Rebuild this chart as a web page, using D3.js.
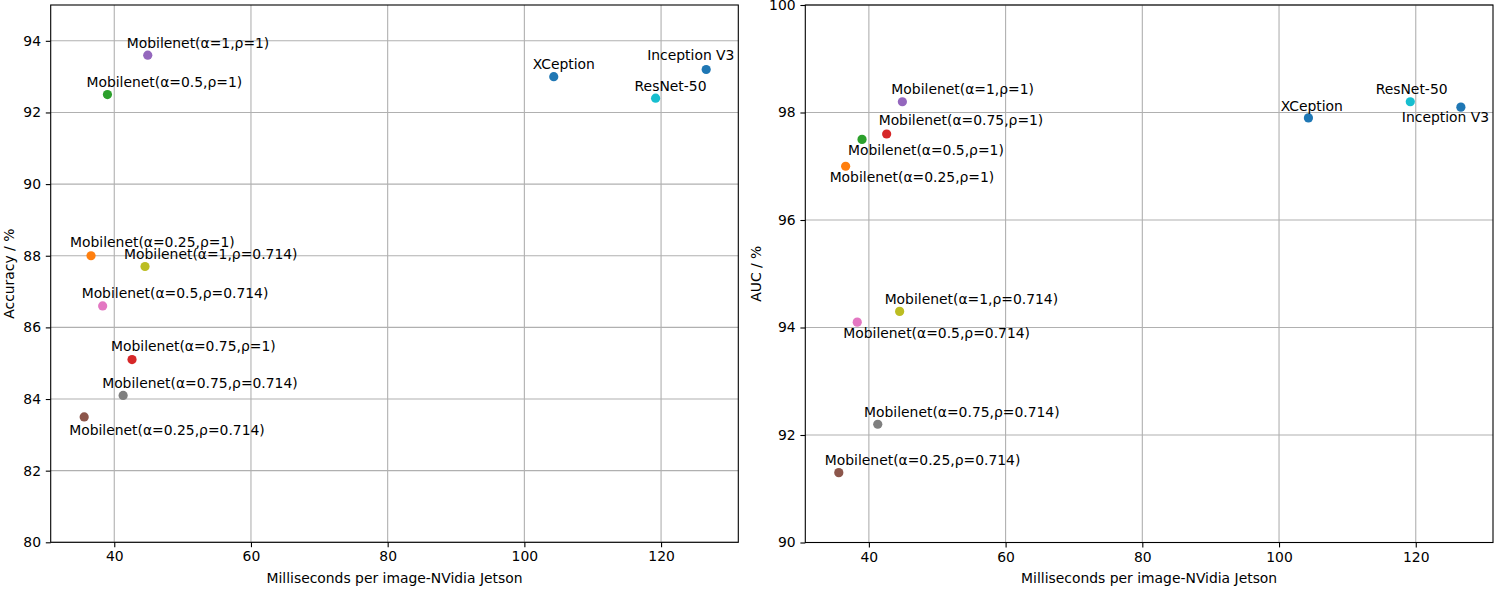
<!DOCTYPE html>
<html>
<head>
<meta charset="utf-8">
<script src="https://cdn.jsdelivr.net/npm/d3@7"></script>
<style>
  html, body { margin: 0; padding: 0; background: #fff; }
  svg { display: block; }
  text { font-family: "DejaVu Sans", sans-serif; fill: #000; }
</style>
</head>
<body>
<svg id="chart" width="1498" height="596"></svg>
<script>
// ---------------- data ----------------
const models = [
  "XCeption",
  "Mobilenet(α=0.25,ρ=1)",
  "Mobilenet(α=0.5,ρ=1)",
  "Mobilenet(α=0.75,ρ=1)",
  "Mobilenet(α=1,ρ=1)",
  "Mobilenet(α=0.25,ρ=0.714)",
  "Mobilenet(α=0.5,ρ=0.714)",
  "Mobilenet(α=0.75,ρ=0.714)",
  "Mobilenet(α=1,ρ=0.714)",
  "ResNet-50",
  "Inception V3"
];
const latencyMs = [104.3, 36.6, 39.0, 42.6, 44.9, 35.6, 38.3, 41.3, 44.5, 119.2, 126.6];
const accuracy  = [93.0, 88.0, 92.5, 85.1, 93.6, 83.5, 86.6, 84.1, 87.7, 92.4, 93.2];
const auc       = [97.9, 97.0, 97.5, 97.6, 98.2, 91.3, 94.1, 92.2, 94.3, 98.2, 98.1];

const xTicks = [40, 60, 80, 100, 120];
const accTicks = [80, 82, 84, 86, 88, 90, 92, 94];
const aucTicks = [90, 92, 94, 96, 98, 100];

const xLabel = "Milliseconds per image-NVidia Jetson";
const accLabel = "Accuracy / %";
const aucLabel = "AUC / %";

// label placement (pixel offsets from point to text start / baseline)
const accLabelDx = [-21, -21, -21, -21, -21, -15, -21, -21, -21, -21, -59];
const accLabelDy = [-8, -8.3, -7.3, -8.7, -7, 17.7, -8, -7, -7, -7.6, -9.3];
const aucLabelDx = [-27.7, -16, -14, -8, -11, -14, -14, -13.7, -15, -34.6, -59];
const aucLabelDy = [-7.3, 15.4, 15.7, -8.6, -7.3, -7.3, 16, -7.6, -7.3, -7.3, 15.3];

const palette = ["#1f77b4","#ff7f0e","#2ca02c","#d62728","#9467bd","#8c564b","#e377c2","#7f7f7f","#bcbd22","#17becf"];

// ---------------- drawing ----------------
const svg = d3.select("#chart");
const FS = 13.9;

function panel(cfg) {
  const { left, right, top, bottom, yDomain, yTicks, yVals, ylabel, dxs, dys } = cfg;
  const x = d3.scaleLinear().domain([30.7, 131.3]).range([left, right]);
  const y = d3.scaleLinear().domain(yDomain).range([bottom, top]);
  const g = svg.append("g");

  // grid
  g.append("g").selectAll("line.vx").data(xTicks).join("line")
    .attr("x1", d => x(d)).attr("x2", d => x(d))
    .attr("y1", top).attr("y2", bottom)
    .attr("stroke", "#b0b0b0").attr("stroke-width", 1.1);
  g.append("g").selectAll("line.hy").data(yTicks).join("line")
    .attr("x1", left).attr("x2", right)
    .attr("y1", d => y(d)).attr("y2", d => y(d))
    .attr("stroke", "#b0b0b0").attr("stroke-width", 1.1);

  // axes via d3 axis
  const xAxis = d3.axisBottom(x).tickValues(xTicks).tickSize(4.9).tickPadding(4.3).tickFormat(d3.format("d"));
  const yAxis = d3.axisLeft(y).tickValues(yTicks).tickSize(4.9).tickPadding(4.8).tickFormat(d3.format("d"));
  const gx = g.append("g").attr("transform", `translate(0,${bottom})`).call(xAxis);
  const gy = g.append("g").attr("transform", `translate(${left},0)`).call(yAxis);
  [gx, gy].forEach(a => {
    a.select(".domain").remove();
    a.selectAll(".tick line").attr("stroke", "#000").attr("stroke-width", 1.1);
    a.selectAll(".tick text").attr("font-size", FS).attr("font-family", "DejaVu Sans").attr("fill", "#000");
  });

  // frame
  g.append("rect").attr("x", left).attr("y", top)
    .attr("width", right - left).attr("height", bottom - top)
    .attr("fill", "none").attr("stroke", "#000").attr("stroke-width", 1.1);

  // points
  g.append("g").selectAll("circle").data(models).join("circle")
    .attr("cx", (d, i) => x(latencyMs[i]))
    .attr("cy", (d, i) => y(yVals[i]))
    .attr("r", 4.6)
    .attr("fill", (d, i) => palette[i % 10]);

  // labels
  g.append("g").selectAll("text").data(models).join("text")
    .attr("x", (d, i) => x(latencyMs[i]) + dxs[i])
    .attr("y", (d, i) => y(yVals[i]) + dys[i])
    .attr("font-size", FS)
    .text(d => d);

  // axis labels
  g.append("text").attr("x", (left + right) / 2).attr("y", 583)
    .attr("text-anchor", "middle").attr("font-size", FS).text(xLabel);
  g.append("text")
    .attr("transform", `translate(${cfg.ylabelX},${(top + bottom) / 2}) rotate(-90)`)
    .attr("text-anchor", "middle").attr("font-size", FS).text(ylabel);
}

panel({ left: 50.7, right: 738.3, top: 5, bottom: 542.3,
        yDomain: [80, 95], yTicks: accTicks, yVals: accuracy, ylabel: accLabel,
        ylabelX: 13.8, dxs: accLabelDx, dys: accLabelDy });
panel({ left: 805.3, right: 1493, top: 5, bottom: 542.5,
        yDomain: [90, 100], yTicks: aucTicks, yVals: auc, ylabel: aucLabel,
        ylabelX: 761, dxs: aucLabelDx, dys: aucLabelDy });
</script>
</body>
</html>
